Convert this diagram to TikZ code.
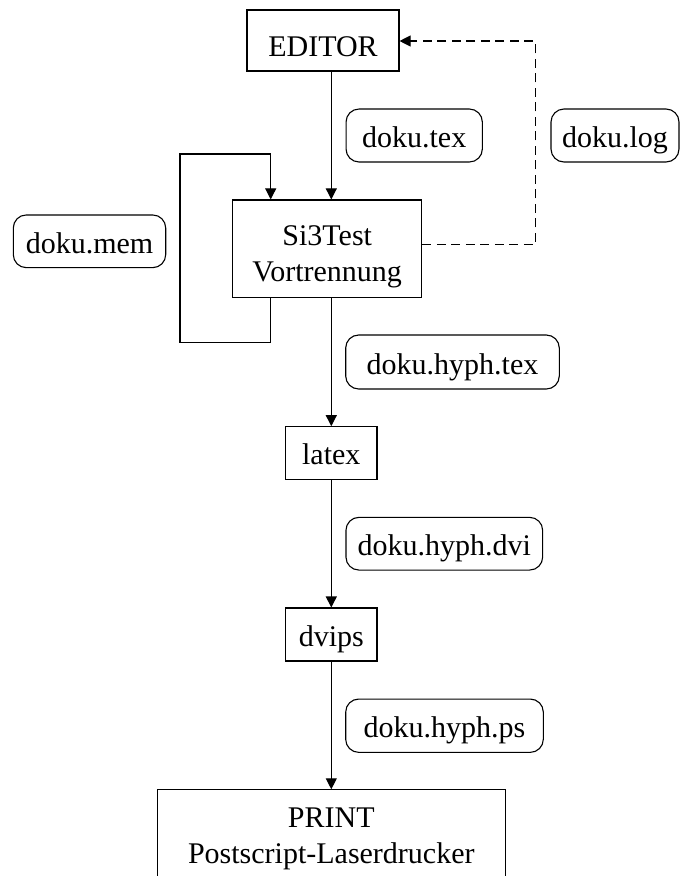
\documentclass[tikz,border=0pt]{standalone}
\usepackage{fontspec}
\setmainfont{Liberation Serif}
\usetikzlibrary{arrows.meta}

\begin{document}
\begin{tikzpicture}[x=1pt, y=-1pt,
  prog/.style={draw, line width=1.1pt, inner sep=2pt, align=center, text depth=12.5pt,
    font=\fontsize{30pt}{36pt}\selectfont},
  file/.style={prog, rounded corners=13pt},
  flow/.style={line width=1.1pt, -{Triangle[length=11pt,width=11pt]}},
  feedback/.style={flow, dash pattern=on 9pt off 5.5pt}]

%definitions
\def\spine{331.3}
\def\loopx{270.7}

\useasboundingbox (0,0) rectangle (680,876);

%programs

\node[prog, minimum width=152pt, text height=44.5pt] (editor) at (323,40.5) {EDITOR};

\node[prog, minimum width=189pt, text height=79.7pt, text depth=14pt] (si3) at (327.2,248.8) {Si3Test\\Vortrennung};

\node[prog, minimum width=91.4pt, text height=36.1pt] (latex) at (\spine,453) {latex};

\node[prog, minimum width=91.4pt, text height=36.5pt] (dvips) at (\spine,634.5) {dvips};

\node[prog, anchor=north, minimum width=347.7pt, text height=71.7pt] (print) at (\spine,789.3) {PRINT\\Postscript-Laserdrucker};

%files

\node[file, minimum width=136.3pt, text height=36.5pt] (tex) at (414.2,135.5) {doku.tex};

\node[file, minimum width=128pt, text height=36.5pt] (log) at (615,135.5) {doku.log};

\node[file, minimum width=152.4pt, text height=36.2pt] (mem) at (89.5,241.3) {doku.mem};

\node[file, minimum width=213.6pt, text height=37.5pt] (hyphtex) at (452.5,362) {doku.hyph.tex};

\node[file, minimum width=196.7pt, text height=36.2pt] (hyphdvi) at (444.3,543.7) {doku.hyph.dvi};

\node[file, minimum width=197.6pt, text height=36.8pt] (hyphps) at (444.5,725.7) {doku.hyph.ps};

%connectors
\coordinate (loopbl) at (180,342.7);
\coordinate (looptl) at (180,154);
\coordinate (logcorner) at (535.3,41);

\draw[flow] (editor.south -| latex.north) -- (si3.north -| latex.north);

\draw[flow] (si3.south -| latex.north) -- (latex.north);

\draw[flow] (latex) -- (dvips);

\draw[flow] (dvips) -- (print);

\draw[flow] (si3.south -| \loopx,0) |- (loopbl) -- (looptl) -| (si3.north -| \loopx,0);

\draw[feedback] ([yshift=4pt]si3.east) -| (logcorner) -- (logcorner -| editor.east);
\end{tikzpicture}
\end{document}
